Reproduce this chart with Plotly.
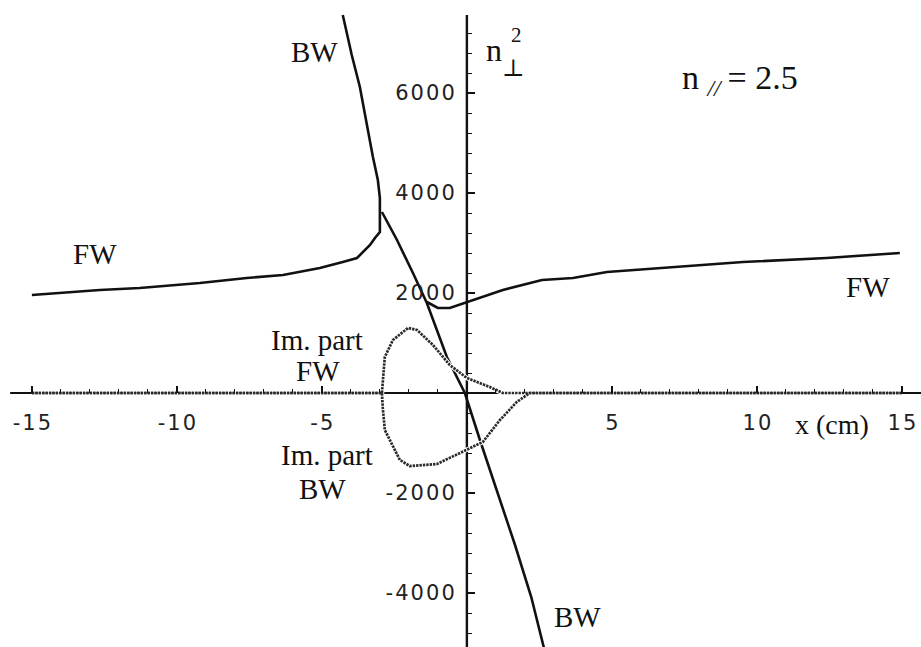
import plotly.graph_objects as go

# ---- data -------------------------------------------------------------
# Upper branch: fast wave (FW) on the left side turning into the backward wave (BW) near x = -3 cm
fw_bw_x = [-15.0, -12.66, -11.28, -9.21, -7.59, -6.34, -5.07, -4.62, -4.28, -3.79, -3.59,
           -3.34, -3.17, -3.0, -3.0, -3.07, -3.24, -3.45, -3.69, -3.97, -4.28]
fw_bw_y = [1960, 2060, 2100, 2200, 2300, 2360, 2500, 2560, 2620, 2700, 2820,
           2960, 3100, 3220, 3900, 4260, 4720, 5400, 6120, 6760, 7560]

# Lower backward-wave branch
bw_x = [-2.93, -2.41, -1.86, -1.38, -0.69, -0.07, 0.45, 1.07, 1.66, 2.22, 2.66, 2.76]
bw_y = [3620, 3060, 2400, 1800, 720, 0, -940, -2000, -3040, -4080, -5080, -5340]

# Fast wave, right side
fw_x = [-1.38, -1.0, -0.59, 0.0, 1.24, 2.59, 3.66, 4.83, 7.34, 9.52, 12.41, 14.93]
fw_y = [1820, 1700, 1700, 1820, 2060, 2260, 2300, 2420, 2520, 2620, 2700, 2800]

# Imaginary parts
im_fw_x = [-15.0, -2.93, -2.83, -2.55, -2.03, -1.72, -1.17, -0.59, 0.0, 0.79, 1.24, 15.0]
im_fw_y = [0, 0, 720, 1060, 1300, 1260, 960, 560, 300, 120, 0, 0]

im_bw_x = [-15.0, -2.93, -2.90, -2.83, -2.31, -1.97, -1.03, -0.59, 0.55, 1.14, 1.72, 2.17, 15.0]
im_bw_y = [0, 0, -300, -740, -1340, -1460, -1420, -1300, -980, -540, -180, 0, 0]

x_ticks = [-15, -10, -5, 5, 10, 15]
x_tick_labels = ["-15", "-10", "-5", "5", "10", "15"]
y_ticks = [-4000, -2000, 2000, 4000, 6000]
y_tick_labels = ["-4000", "-2000", "2000", "4000", "6000"]

X_RANGE = [-16.1, 15.66]
Y_RANGE = [-5080, 7860]


def spaced(label):
    return "\u200a".join(label)


fig = go.Figure()

solid = dict(color="#111111", width=2.6)
for xs, ys in [(fw_bw_x, fw_bw_y), (bw_x, bw_y), (fw_x, fw_y)]:
    fig.add_trace(go.Scatter(x=xs, y=ys, mode="lines", line=solid,
                             hoverinfo="skip", showlegend=False))

# imaginary parts: beaded grey line over a white band
for xs, ys in [(im_fw_x, im_fw_y), (im_bw_x, im_bw_y)]:
    fig.add_trace(go.Scatter(x=xs, y=ys, mode="lines",
                             line=dict(color="white", width=4.5),
                             hoverinfo="skip", showlegend=False))
for xs, ys in [(im_fw_x, im_fw_y), (im_bw_x, im_bw_y)]:
    fig.add_trace(go.Scatter(x=xs, y=ys, mode="lines",
                             line=dict(color="#2a2a2a", width=2.7, dash="2.4px,1px"),
                             hoverinfo="skip", showlegend=False))

# axis lines through the origin
fig.add_shape(type="line", x0=-15.75, x1=16.5, y0=0, y1=0, xref="x", yref="y",
              line=dict(color="#111111", width=2), layer="below")
fig.add_shape(type="line", x0=0, x1=0, y0=-5400, y1=7560, xref="x", yref="y",
              line=dict(color="#111111", width=2.4), layer="below")

tick_font = dict(family="DejaVu Sans", size=21, color="#222222")
serif = "Liberation Serif"

fig.update_layout(
    width=921, height=647,
    margin=dict(l=0, r=0, t=0, b=0),
    paper_bgcolor="white", plot_bgcolor="white",
    xaxis=dict(
        range=X_RANGE, showgrid=False, zeroline=False, showline=False,
        anchor="free", position=-Y_RANGE[0] / (Y_RANGE[1] - Y_RANGE[0]),
        tickmode="array", tickvals=x_ticks, ticktext=[spaced(t) for t in x_tick_labels],
        ticks="inside", ticklen=7, tickwidth=1.6, tickcolor="#111111",
        ticklabelstandoff=15, tickfont=tick_font,
        minor=dict(tickmode="array", tickvals=[v for v in range(-14, 15) if v % 5],
                   ticks="inside", ticklen=4, tickwidth=1.4, tickcolor="#111111"),
    ),
    yaxis=dict(
        range=Y_RANGE, showgrid=False, zeroline=False, showline=False,
        anchor="free", position=-X_RANGE[0] / (X_RANGE[1] - X_RANGE[0]),
        tickmode="array", tickvals=y_ticks, ticktext=[spaced(t) for t in y_tick_labels],
        ticks="inside", ticklen=7, tickwidth=1.6, tickcolor="#111111",
        ticklabelstandoff=12, tickfont=tick_font,
        minor=dict(tickmode="array",
                   tickvals=[v for v in range(-4800, 7600, 400) if v % 2000 and v],
                   ticks="inside", ticklen=4, tickwidth=1.4, tickcolor="#111111"),
    ),
)

labels = [
    ("BW", -5.24, 6820, 29),
    ("FW", -12.83, 2780, 29),
    ("FW", 13.83, 2120, 29),
    ("Im. part", -5.17, 1060, 29),
    ("FW", -5.14, 440, 29),
    ("Im. part", -4.83, -1240, 29),
    ("BW", -4.97, -1920, 29),
    ("BW", 3.83, -4480, 29),
    ("x (cm)", 12.59, -620, 28),
]
for text, x, y, size in labels:
    fig.add_annotation(x=x, y=y, text=text, showarrow=False, xanchor="center",
                       yanchor="middle", font=dict(family=serif, size=size, color="#111111"))

# n_perp^2 axis title
fig.add_annotation(x=0.93, y=6860, text="n", showarrow=False,
                   font=dict(family=serif, size=32, color="#111111"))
fig.add_annotation(x=1.72, y=7160, text="2", showarrow=False,
                   font=dict(family=serif, size=21, color="#111111"))
fig.add_annotation(x=1.62, y=6500, text="\u22a5", showarrow=False,
                   font=dict(family="DejaVu Serif", size=24, color="#111111"))

# parallel refractive index
fig.add_annotation(x=9.41, y=6260, text="n <sub><i>//</i></sub>\u2009= 2.5", showarrow=False,
                   xanchor="center", font=dict(family=serif, size=34, color="#111111"))

fig.write_html("out.html")
